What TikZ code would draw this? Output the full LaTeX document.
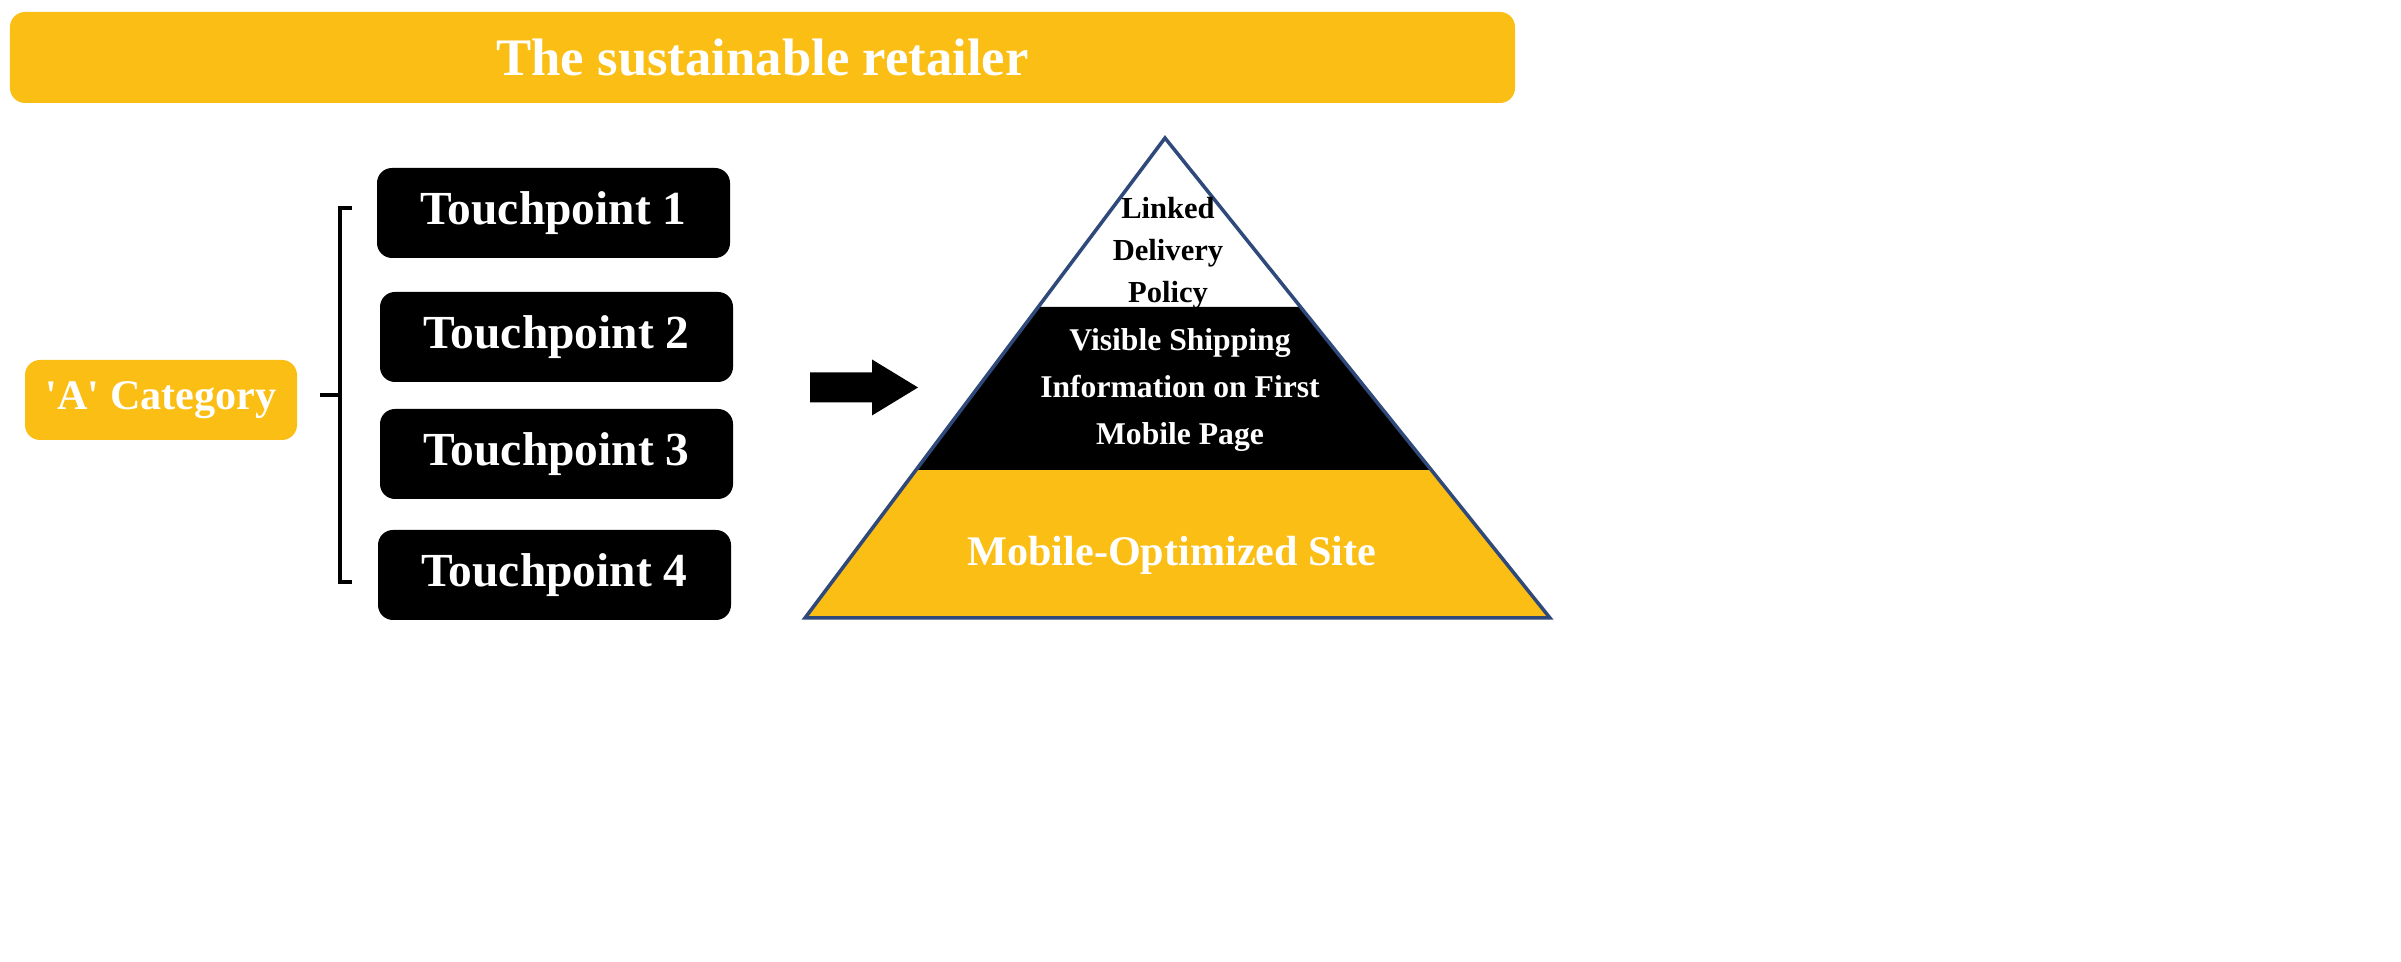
\documentclass[tikz,border=0pt]{standalone}
\usepackage{fontspec}
\setmainfont{Liberation Serif}
\definecolor{gold}{HTML}{FBBE14}
\definecolor{edge}{HTML}{2F4A7A}
\tikzset{
  goldbox/.style={draw=none, fill=gold, rounded corners=0.15cm, text=white, font=\bfseries},
  touch/.style={draw=none, fill=black, rounded corners=0.15cm, minimum width=3.53cm, minimum height=0.9cm, text=white, font=\fontsize{13.5}{16}\selectfont\bfseries},
}
\begin{document}
\begin{tikzpicture}[x=1cm, y=1cm]
\useasboundingbox (0,0) rectangle (24.01,9.62);

% figure title
\node[goldbox, minimum width=15.05cm, minimum height=0.91cm, font=\fontsize{15}{18}\selectfont\bfseries] at (7.625, 9.045) (title) {The sustainable retailer};

% category
\node[goldbox, minimum width=2.72cm, minimum height=0.8cm, font=\fontsize{12}{14}\selectfont\bfseries] at (1.61, 5.62) (cat) {\textquotesingle A\textquotesingle{} Category};

% touchpoints
\node[touch] at (5.535, 7.49) (tp1) {Touchpoint 1};
\node[touch] at (5.565, 6.25) (tp2) {Touchpoint 2};
\node[touch] at (5.565, 5.08) (tp3) {Touchpoint 3};
\node[touch] at (5.545, 3.87) (tp4) {Touchpoint 4};

% bracket
\coordinate (bt) at (3.40, 7.54);
\coordinate (bb) at (3.40, 3.80);
\coordinate (bm) at (3.40, 5.67);
\draw[line width=1pt] ([xshift=0.12cm]bt) -- (bt) -- (bb) -- ([xshift=0.12cm]bb);
\draw[line width=1pt] (bm) -- ([xshift=-0.2cm]bm);

% arrow
\coordinate (arr) at (8.10, 5.745);
\fill[black] (arr) ++(0,0.15) -- ++(0.62,0) -- ++(0,0.13) -- ++(0.46,-0.28)
  -- ++(-0.46,-0.28) -- ++(0,0.13) -- ++(-0.62,0) -- cycle;

% pyramid
\coordinate (apex) at (11.65, 8.24);
\coordinate (bl) at (8.05, 3.44);
\coordinate (br) at (15.50, 3.44);
\coordinate (l1) at (10.38, 6.55);
\coordinate (r1) at (13.00, 6.55);
\coordinate (l2) at (9.16, 4.92);
\coordinate (r2) at (14.31, 4.92);
\fill[gold] (l2) -- (r2) -- (br) -- (bl) -- cycle;
\fill[black] (l1) -- (r1) -- (r2) -- (l2) -- cycle;
\draw[edge, line width=1pt] (apex) -- (br) -- (bl) -- cycle;
\node[align=center, font=\fontsize{8.7}{12}\selectfont\bfseries] at (11.68, 7.09) (top) {Linked\\Delivery\\Policy};
\node[align=center, text=white, font=\fontsize{9}{13.5}\selectfont\bfseries] at (11.80, 5.72) (mid) {Visible Shipping\\Information on First\\Mobile Page};
\node[text=white, font=\fontsize{12}{14}\selectfont\bfseries] at (11.72, 4.07) (bot) {Mobile-Optimized Site};

\end{tikzpicture}
\end{document}
